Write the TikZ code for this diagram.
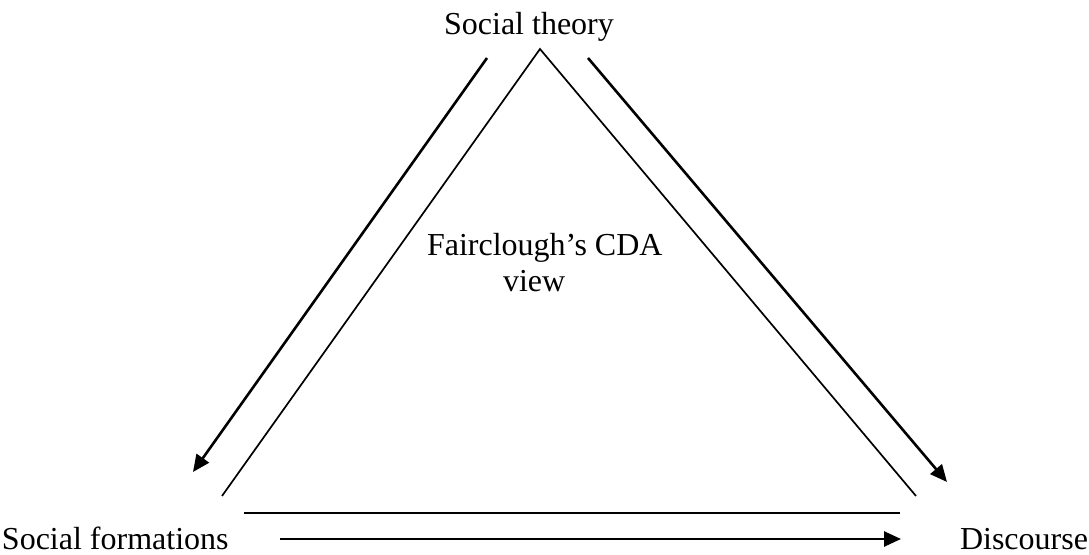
\documentclass[tikz,border=0pt]{standalone}
\usepackage{fontspec}
\setmainfont{Liberation Serif}
\usetikzlibrary{arrows.meta}
\begin{document}
\begin{tikzpicture}[x=0.5pt,y=-0.5pt,
  lbl/.style={inner sep=0pt,outer sep=0pt,font=\fontsize{16pt}{18.4pt}\selectfont},
  side/.style={line width=0.85pt},
  flow/.style={line width=1.3pt,-{Triangle[length=8.5pt,width=7.5pt]}}]
\useasboundingbox (0,0) rectangle (1089,555);

% labels at the three corners and inside
\node[lbl,anchor=base] (theory) at (529,35) {Social theory};
\node[lbl,anchor=base west] (formations) at (2,550) {Social formations};
\node[lbl,anchor=base east] (discourse) at (1088,550) {Discourse};
\node[lbl,anchor=base west,align=left] (cda) at (427,292)
  {Fairclough’s CDA\\\hspace*{38pt}view};

% open triangle
\coordinate (apex) at (540,49);
\coordinate (tl) at (222,496);
\coordinate (tr) at (916,496);
\coordinate (bl) at (244,513);
\coordinate (br) at (900,513);
\draw[side] (tl) -- (apex) -- (tr);
\draw[side] (bl) -- (br);

% arrows along the sides
\coordinate (a1s) at (487,58);
\coordinate (a1e) at (193,472);
\coordinate (a2s) at (588,58);
\coordinate (a2e) at (947,482);
\coordinate (a3s) at (280,539);
\coordinate (a3e) at (901,539);
\draw[flow] (a1s) -- (a1e);
\draw[flow] (a2s) -- (a2e);
\draw[flow] (a3s) -- (a3e);
\end{tikzpicture}
\end{document}
